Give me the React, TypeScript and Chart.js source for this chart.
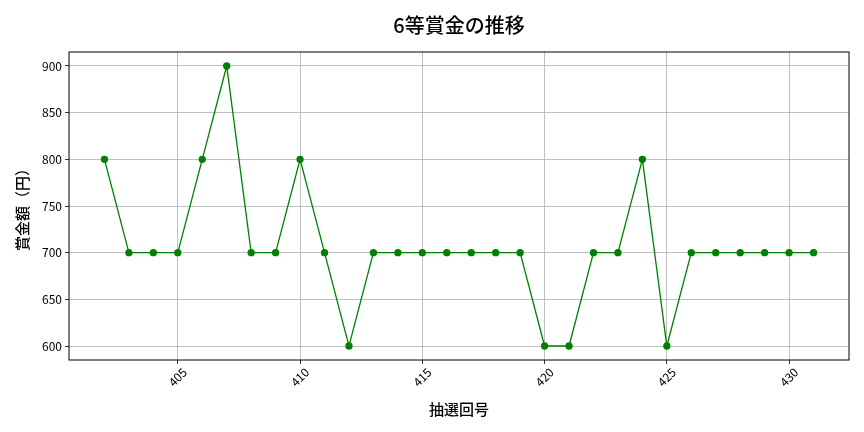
import React, { useEffect, useRef } from 'react';
import { Chart, registerables } from 'chart.js';

Chart.register(...registerables);

const draws: number[] = [
  402, 403, 404, 405, 406, 407, 408, 409, 410, 411, 412, 413, 414, 415, 416,
  417, 418, 419, 420, 421, 422, 423, 424, 425, 426, 427, 428, 429, 430, 431,
];
const prizes: number[] = [
  800, 700, 700, 700, 800, 900, 700, 700, 800, 700, 600, 700, 700, 700, 700,
  700, 700, 700, 600, 600, 700, 700, 800, 600, 700, 700, 700, 700, 700, 700,
];
const xTicks: number[] = [405, 410, 415, 420, 425, 430];
const yTicks: number[] = [600, 650, 700, 750, 800, 850, 900];

const FONT = '"Noto Sans CJK JP", "Noto Sans", sans-serif';

// frame + title drawn by hand (matplotlib look)
const framePlugin = {
  id: 'frame',
  afterDraw(chart: Chart) {
    const { ctx, chartArea } = chart;
    ctx.save();
    ctx.strokeStyle = '#000';
    ctx.lineWidth = 1;
    ctx.strokeRect(chartArea.left, chartArea.top, chartArea.right - chartArea.left, chartArea.bottom - chartArea.top);
    ctx.fillStyle = '#000';
    ctx.font = `500 20px ${FONT}`;
    ctx.textAlign = 'center';
    ctx.textBaseline = 'middle';
    ctx.fillText('6等賞金の推移', (chartArea.left + chartArea.right) / 2, 25);
    ctx.restore();
  },
};

const App: React.FC = () => {
  const canvasRef = useRef<HTMLCanvasElement>(null);

  useEffect(() => {
    if (!canvasRef.current) return;
    const ctx = canvasRef.current.getContext('2d');
    if (!ctx) return;

    const chart = new Chart(ctx, {
      type: 'line',
      data: {
        datasets: [
          {
            data: draws.map((d, i) => ({ x: d, y: prizes[i] })),
            borderColor: '#008000',
            backgroundColor: '#008000',
            borderWidth: 1.3,
            pointRadius: 3,
            pointHoverRadius: 3,
            tension: 0,
          },
        ],
      },
      options: {
        animation: false,
        responsive: false,
        layout: { padding: { top: 52, right: 15, left: 0, bottom: 0 } },
        plugins: { legend: { display: false }, tooltip: { enabled: false } },
        scales: {
          x: {
            type: 'linear',
            min: 400.55,
            max: 432.45,
            afterBuildTicks: (axis: any) => {
              axis.ticks = xTicks.map(v => ({ value: v }));
            },
            afterFit: (axis: any) => {
              axis.height = 72;
            },
            grid: { color: '#b0b0b0', lineWidth: 0.8, tickColor: '#000', tickLength: 4 },
            border: { display: false },
            ticks: {
              minRotation: 45,
              maxRotation: 45,
              labelOffset: 7,
              color: '#000',
              font: { family: FONT, size: 12 },
              padding: 1,
            },
            title: {
              display: true,
              text: '抽選回号',
              color: '#000',
              font: { family: FONT, size: 15, weight: 500 },
              padding: { top: 4, bottom: 14 },
            },
          },
          y: {
            type: 'linear',
            min: 585,
            max: 915,
            afterBuildTicks: (axis: any) => {
              axis.ticks = yTicks.map(v => ({ value: v }));
            },
            afterFit: (axis: any) => {
              axis.width = 69;
            },
            grid: { color: '#b0b0b0', lineWidth: 0.8, tickColor: '#000', tickLength: 4 },
            border: { display: false },
            ticks: {
              color: '#000',
              font: { family: FONT, size: 12 },
              padding: 3,
            },
            title: {
              display: true,
              text: '賞金額（円）',
              color: '#000',
              font: { family: FONT, size: 15, weight: 500 },
              padding: { top: 13, bottom: 0 },
            },
          },
        },
      },
      plugins: [framePlugin],
    });

    return () => chart.destroy();
  }, []);

  return (
    <div style={{ position: 'fixed', left: 0, top: 0, width: 864, height: 432, background: '#fff' }}>
      <canvas ref={canvasRef} width={864} height={432} />
    </div>
  );
};

export default App;
